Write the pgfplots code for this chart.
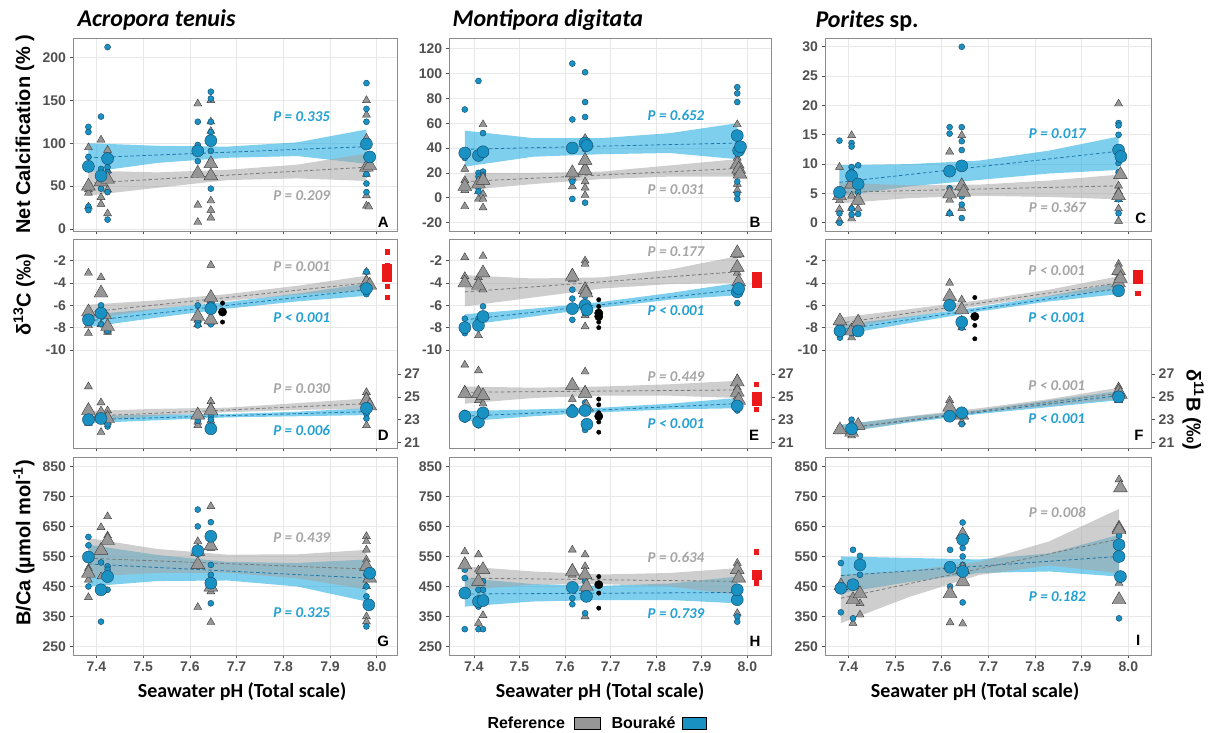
\documentclass[border=0pt]{standalone}
\usepackage{pgfplots}
\pgfplotsset{compat=1.18}
\usepackage{fontspec}
\setmainfont{Liberation Sans}
\newfontfamily\carl{Carlito}
\definecolor{refF}{RGB}{150,150,150}
\definecolor{refE}{RGB}{60,60,60}
\definecolor{bouF}{RGB}{25,145,195}
\definecolor{bouE}{RGB}{20,70,100}
\definecolor{bandG}{RGB}{165,165,165}
\definecolor{bandB}{RGB}{40,175,225}
\definecolor{fitG}{RGB}{120,120,120}
\definecolor{fitB}{RGB}{30,120,170}
\definecolor{pB}{RGB}{35,160,210}
\definecolor{pG}{RGB}{165,165,165}
\definecolor{tickc}{RGB}{80,80,80}
\definecolor{framec}{RGB}{140,140,140}
\definecolor{gridc}{RGB}{232,232,232}
\definecolor{redM}{RGB}{235,25,25}
\pgfplotsset{
 base/.style={scale only axis, anchor=south west,
   axis line style={draw=framec, line width=0.7pt},
   tick style={draw=tickc, line width=0.6pt}, tick align=outside, major tick length=3.5pt,
   tick pos=left,
   xtick={7.4,7.5,7.6,7.7,7.8,7.9,8.0},
   grid=major, grid style={draw=gridc, line width=0.6pt},
   tick label style={font=\fontsize{14}{14}\selectfont\bfseries, text=tickc},
   /pgf/number format/assume math mode=true},
 c1/.style={xmin=7.35, xmax=8.044, width=324.3pt},
 c2/.style={xmin=7.346, xmax=8.052, width=321.7pt},
 c3/.style={xmin=7.35, xmax=8.05, width=326.7pt},
 r1/.style={height=193pt, xticklabels={}},
 r2/.style={height=209pt, xticklabels={}, ymin=-18.78, ymax=-0.06, ytick={-10,-8,-6,-4,-2}, yticklabels={-10,-8,-6,-4,-2}},
 r2r/.style={height=209pt, ymin=20.52, ymax=38.82, axis x line=none, axis y line*=right, ytick pos=right, yticklabel pos=right, ytick={21,23,25,27}, yticklabels={21,23,25,27}, grid=none, xtick=\empty},
 r3/.style={height=198pt, xticklabels={7.4,7.5,7.6,7.7,7.8,7.9,8.0}, ymin=222, ymax=881, ytick={250,350,450,550,650,750,850}, yticklabels={250,350,450,550,650,750,850}},
 refs/.style={only marks, mark=triangle*, mark size=4.6pt, mark options={draw=refE, fill=refF, line width=0.4pt, solid}},
 refb/.style={only marks, mark=triangle*, mark size=8pt, mark options={draw=refE, fill=refF, line width=0.4pt, solid}},
 bous/.style={only marks, mark=*, mark size=3pt, mark options={draw=bouE, fill=bouF, line width=0.4pt, solid}},
 boub/.style={only marks, mark=*, mark size=6pt, mark options={draw=bouE, fill=bouF, line width=0.4pt, solid}},
 blks/.style={only marks, mark=*, mark size=2.2pt, mark options={draw=black, fill=black}},
 blkb/.style={only marks, mark=*, mark size=4.2pt, mark options={draw=black, fill=black}},
 reds/.style={only marks, mark=square*, mark size=2.2pt, mark options={draw=redM, fill=redM}},
 redb/.style={only marks, mark=square*, mark size=4.5pt, mark options={draw=redM, fill=redM}},
 bandg/.style={fill=bandG, fill opacity=0.55, draw=none},
 bandb/.style={fill=bandB, fill opacity=0.6, draw=none},
 fitg/.style={draw=fitG, line width=0.8pt, dash pattern=on 3.5pt off 2.5pt},
 fitb/.style={draw=fitB, line width=0.8pt, dash pattern=on 3.5pt off 2.5pt},
}
\begin{document}
\begin{tikzpicture}
\useasboundingbox (0,0) rectangle (1208pt,733pt);

% ---------------- Panel A
\begin{axis}[base, c1, r1, at={(73pt,502pt)}, ymin=-2.3, ymax=222.6, ytick={0,50,100,150,200}, yticklabels={0,50,100,150,200}]
\addplot[bandb] coordinates {(7.383,100) (7.53,97) (7.68,96) (7.83,101) (7.978,116) (7.978,76) (7.83,85) (7.68,83) (7.53,77) (7.383,66)} -- cycle;
\addplot[bandg] coordinates {(7.383,68) (7.53,66) (7.68,69) (7.83,75) (7.978,88) (7.978,56) (7.83,59) (7.68,57) (7.53,48) (7.383,39)} -- cycle;
\addplot[refs] coordinates {(7.383,95) (7.383,46) (7.383,42) (7.383,26) (7.41,104) (7.41,59) (7.41,37) (7.41,29) (7.424,92) (7.424,68) (7.424,46) (7.424,18) (7.617,146) (7.617,28) (7.617,8) (7.645,150) (7.645,125) (7.645,114) (7.645,65) (7.645,33) (7.645,22) (7.645,13) (7.978,150) (7.978,133) (7.978,106) (7.978,70) (7.978,64) (7.978,39) (7.978,27) (7.983,26)};
\addplot[bous] coordinates {(7.383,119) (7.383,113) (7.383,84) (7.383,26) (7.383,22) (7.41,131) (7.41,70) (7.41,64) (7.41,55) (7.41,47) (7.424,212) (7.424,72) (7.424,66) (7.424,43) (7.424,11) (7.617,125) (7.617,98) (7.617,79) (7.617,64) (7.645,160) (7.645,152) (7.645,125) (7.645,113) (7.645,91) (7.645,79) (7.645,47) (7.978,170) (7.978,140) (7.978,125) (7.978,101) (7.978,84) (7.978,64) (7.978,53) (7.978,43)};
\addplot[refb] coordinates {(7.383,50) (7.41,55) (7.424,58) (7.617,65) (7.645,76) (7.645,62) (7.978,72) (7.985,74)};
\addplot[boub] coordinates {(7.383,73) (7.41,62) (7.424,82) (7.617,91) (7.645,103) (7.978,99) (7.985,84)};
\addplot[fitb] coordinates {(7.383,83) (7.978,96)};
\addplot[fitg] coordinates {(7.383,53.5) (7.978,72)};
\end{axis}

% ---------------- Panel B
\begin{axis}[base, c2, r1, at={(449.3pt,502pt)}, ymin=-26.8, ymax=128.6, ytick={-20,0,20,40,60,80,100,120}, yticklabels={-20,0,20,40,60,80,100,120}]
\addplot[bandb] coordinates {(7.38,54) (7.53,48) (7.68,48) (7.83,52) (7.978,60) (7.978,31) (7.83,36) (7.68,35) (7.53,33) (7.38,25)} -- cycle;
\addplot[bandg] coordinates {(7.38,20) (7.53,20) (7.68,21) (7.83,26) (7.978,31) (7.978,17) (7.83,17) (7.68,15) (7.53,11) (7.38,6)} -- cycle;
\addplot[refs] coordinates {(7.38,23) (7.38,14) (7.38,10) (7.38,6) (7.38,-7) (7.41,13) (7.41,5) (7.41,-1) (7.42,59) (7.42,15) (7.42,3) (7.42,-1) (7.42,-8) (7.616,40) (7.616,20) (7.616,16) (7.616,9) (7.644,48) (7.644,32) (7.644,25) (7.644,13) (7.644,8) (7.644,2) (7.978,59) (7.978,32) (7.978,24) (7.978,20) (7.978,11) (7.978,6)};
\addplot[bous] coordinates {(7.38,71) (7.38,32) (7.41,94) (7.41,20) (7.41,17) (7.41,13) (7.41,8) (7.41,5) (7.42,52) (7.42,21) (7.42,18) (7.616,108) (7.616,63) (7.616,13) (7.616,-1) (7.644,101) (7.644,77) (7.644,65) (7.644,45) (7.644,39) (7.644,-4) (7.978,89) (7.978,84) (7.978,77) (7.978,27) (7.978,13) (7.978,3) (7.978,-1)};
\addplot[refb] coordinates {(7.38,9) (7.41,11) (7.42,14) (7.616,20) (7.644,22) (7.644,30) (7.978,27) (7.981,23) (7.984,19)};
\addplot[boub] coordinates {(7.38,36) (7.41,34) (7.42,37) (7.616,40) (7.644,44) (7.648,42) (7.978,50) (7.981,38) (7.985,41)};
\addplot[fitb] coordinates {(7.38,39) (7.978,44)};
\addplot[fitg] coordinates {(7.38,13) (7.978,23.5)};
\end{axis}

% ---------------- Panel C
\begin{axis}[base, c3, r1, at={(825pt,502pt)}, ymin=-1.4, ymax=31.5, ytick={0,5,10,15,20,25,30}, yticklabels={0,5,10,15,20,25,30}]
\addplot[bandb] coordinates {(7.381,9.8) (7.53,10.0) (7.68,10.6) (7.83,12.3) (7.979,14.7) (7.979,9.0) (7.83,8.4) (7.68,7.3) (7.53,6.2) (7.381,4.5)} -- cycle;
\addplot[bandg] coordinates {(7.381,6.8) (7.53,6.4) (7.68,6.5) (7.83,7.2) (7.979,8.2) (7.979,4.0) (7.83,4.4) (7.68,4.6) (7.53,4.2) (7.381,3.3)} -- cycle;
\addplot[refs] coordinates {(7.381,9.5) (7.381,3.8) (7.381,2.3) (7.381,0.4) (7.407,14.9) (7.407,4.6) (7.407,2.5) (7.407,0.7) (7.421,4.3) (7.421,3.5) (7.421,2.4) (7.617,12.1) (7.617,3.9) (7.617,1.6) (7.643,14.9) (7.643,6.8) (7.643,5.9) (7.643,2.5) (7.979,20.3) (7.979,6.3) (7.979,5.3) (7.979,4.0) (7.979,2.4) (7.979,0.3)};
\addplot[bous] coordinates {(7.381,14) (7.381,5.6) (7.381,1.6) (7.381,0) (7.407,13.6) (7.407,13) (7.407,9.5) (7.407,8.7) (7.407,2.4) (7.407,1.4) (7.421,9.8) (7.421,5.2) (7.421,3.8) (7.421,1.5) (7.617,16.3) (7.617,15.2) (7.617,5.9) (7.617,1.6) (7.643,30) (7.643,16.3) (7.643,13.9) (7.643,12.4) (7.643,4.5) (7.643,3.1) (7.643,0.8) (7.979,17) (7.979,16.6) (7.979,15) (7.979,10.2) (7.979,8.6) (7.979,4) (7.979,1.6)};
\addplot[refb] coordinates {(7.381,4.6) (7.407,6.6) (7.421,3.8) (7.617,4.9) (7.643,6.3) (7.647,5.2) (7.983,8.2) (7.979,4.6)};
\addplot[boub] coordinates {(7.381,5.2) (7.407,8.0) (7.421,6.6) (7.617,8.8) (7.643,9.7) (7.979,12.4) (7.984,11.3)};
\addplot[fitb] coordinates {(7.381,6.9) (7.979,12.2)};
\addplot[fitg] coordinates {(7.381,5.2) (7.979,6.3)};
\end{axis}

% ---------------- Panel D
\begin{axis}[base, c1, r2, at={(73pt,285pt)}]
\addplot[bandb] coordinates {(7.383,-6.85) (7.53,-6.3) (7.68,-5.7) (7.83,-4.95) (7.978,-4.05) (7.978,-5.15) (7.83,-5.65) (7.68,-6.3) (7.53,-7.1) (7.383,-7.95)} -- cycle;
\addplot[bandg] coordinates {(7.383,-5.95) (7.53,-5.55) (7.68,-5.0) (7.83,-4.25) (7.978,-3.35) (7.978,-4.65) (7.83,-5.05) (7.68,-5.6) (7.53,-6.35) (7.383,-7.25)} -- cycle;
\addplot[refs] coordinates {(7.383,-3.1) (7.383,-7.8) (7.383,-8.5) (7.41,-3.5) (7.41,-7.7) (7.424,-7.0) (7.424,-8.2) (7.424,-8.4) (7.617,-6.8) (7.617,-7.3) (7.617,-7.7) (7.645,-2.4) (7.645,-5.6) (7.645,-7.5) (7.978,-3.0) (7.978,-3.7) (7.978,-4.3)};
\addplot[bous] coordinates {(7.383,-7.1) (7.41,-6.0) (7.41,-7.7) (7.424,-8.0) (7.424,-8.3) (7.617,-6.0) (7.617,-7.5) (7.617,-7.8) (7.645,-5.9) (7.645,-7.4) (7.645,-7.7) (7.978,-3.0) (7.978,-4.6) (7.978,-4.9) (7.978,-5.0)};
\addplot[refb] coordinates {(7.383,-6.6) (7.41,-4.9) (7.424,-7.9) (7.617,-7.0) (7.645,-5.3) (7.645,-7.3) (7.978,-4.0) (7.985,-4.2)};
\addplot[boub] coordinates {(7.383,-7.3) (7.41,-6.7) (7.645,-6.3) (7.978,-4.5)};
\addplot[blks] coordinates {(7.67,-5.8) (7.67,-7.5)};
\addplot[blkb] coordinates {(7.67,-6.6)};
\addplot[reds] coordinates {(8.022,-1.2) (8.022,-2.4) (8.022,-4.3) (8.022,-5.3)};
\addplot[redb] coordinates {(8.022,-2.7) (8.022,-3.0) (8.022,-3.4)};
\addplot[fitb] coordinates {(7.383,-7.4) (7.978,-4.6)};
\addplot[fitg] coordinates {(7.383,-6.6) (7.978,-4.0)};
\end{axis}
\begin{axis}[base, c1, r2r, at={(73pt,285pt)}]
\addplot[bandb] coordinates {(7.383,23.3) (7.53,23.45) (7.68,23.5) (7.83,23.7) (7.978,24.0) (7.978,23.4) (7.83,23.3) (7.68,23.2) (7.53,22.95) (7.383,22.7)} -- cycle;
\addplot[bandg] coordinates {(7.383,23.75) (7.53,23.95) (7.68,24.05) (7.83,24.45) (7.978,24.85) (7.978,23.95) (7.83,23.85) (7.68,23.65) (7.53,23.35) (7.383,22.85)} -- cycle;
\addplot[refs] coordinates {(7.383,25.9) (7.383,24.0) (7.383,22.7) (7.41,24.5) (7.41,21.9) (7.424,23.8) (7.424,22.8) (7.617,22.8) (7.617,22.5) (7.645,24.6) (7.645,24.1) (7.645,22.9) (7.978,25.4) (7.978,25.0) (7.978,22.5)};
\addplot[bous] coordinates {(7.383,23.3) (7.41,23.5) (7.424,22.4) (7.424,22.6) (7.617,23.5) (7.617,22.9) (7.645,23.3) (7.645,23.0) (7.978,24.1) (7.978,23.5) (7.978,23.1)};
\addplot[refb] coordinates {(7.383,23.8) (7.41,23.5) (7.424,23.1) (7.617,23.4) (7.645,23.8) (7.978,24.7) (7.985,24.2)};
\addplot[boub] coordinates {(7.383,23.0) (7.41,23.1) (7.645,22.2) (7.978,24.0)};
\addplot[fitb] coordinates {(7.383,23.0) (7.978,23.7)};
\addplot[fitg] coordinates {(7.383,23.3) (7.978,24.4)};
\end{axis}

% ---------------- Panel E
\begin{axis}[base, c2, r2, at={(449.3pt,285pt)}]
\addplot[bandb] coordinates {(7.38,-6.8) (7.53,-6.3) (7.68,-5.7) (7.83,-4.9) (7.978,-4.0) (7.978,-5.1) (7.83,-5.5) (7.68,-6.2) (7.53,-7.0) (7.38,-7.8)} -- cycle;
\addplot[bandg] coordinates {(7.38,-3.3) (7.53,-3.6) (7.68,-3.5) (7.83,-2.8) (7.978,-1.6) (7.978,-4.0) (7.83,-4.1) (7.68,-4.5) (7.53,-5.3) (7.38,-6.1)} -- cycle;
\addplot[refs] coordinates {(7.38,-1.7) (7.38,-3.4) (7.38,-3.9) (7.41,-3.5) (7.41,-8.7) (7.42,-1.6) (7.42,-4.6) (7.616,-3.1) (7.616,-3.7) (7.644,-2.0) (7.644,-2.3) (7.644,-4.5) (7.644,-6.9) (7.644,-7.9) (7.978,-1.5) (7.978,-2.7) (7.978,-3.1) (7.978,-3.9)};
\addplot[bous] coordinates {(7.38,-7.2) (7.38,-8.5) (7.41,-7.2) (7.42,-6.1) (7.616,-4.6) (7.616,-5.4) (7.616,-7.3) (7.644,-5.2) (7.644,-6.7) (7.978,-4.0) (7.978,-4.6) (7.978,-4.9) (7.978,-5.8)};
\addplot[refb] coordinates {(7.38,-4.0) (7.41,-4.2) (7.42,-3.1) (7.616,-3.4) (7.644,-4.6) (7.646,-4.9) (7.978,-1.3) (7.978,-2.6) (7.981,-3.9)};
\addplot[boub] coordinates {(7.38,-8.0) (7.41,-7.8) (7.42,-7.0) (7.616,-6.3) (7.644,-6.0) (7.648,-6.4) (7.978,-4.8) (7.981,-4.5)};
\addplot[blks] coordinates {(7.674,-5.5) (7.674,-6.1) (7.674,-6.5) (7.674,-7.5) (7.674,-8.0)};
\addplot[blkb] coordinates {(7.674,-6.7) (7.674,-7.0)};
\addplot[redb] coordinates {(8.02,-3.4) (8.02,-3.7) (8.02,-4.0)};
\addplot[fitb] coordinates {(7.38,-7.3) (7.978,-4.6)};
\addplot[fitg] coordinates {(7.38,-4.8) (7.978,-3.0)};
\end{axis}
\begin{axis}[base, c2, r2r, at={(449.3pt,285pt)}]
\addplot[bandb] coordinates {(7.38,23.75) (7.53,23.9) (7.68,24.05) (7.83,24.4) (7.978,24.9) (7.978,24.0) (7.83,23.9) (7.68,23.65) (7.53,23.3) (7.38,22.85)} -- cycle;
\addplot[bandg] coordinates {(7.38,25.9) (7.53,25.8) (7.68,25.9) (7.83,26.1) (7.978,26.4) (7.978,24.9) (7.83,25.1) (7.68,25.1) (7.53,24.9) (7.38,24.4)} -- cycle;
\addplot[refs] coordinates {(7.38,27.8) (7.38,25.6) (7.41,27.3) (7.41,24.7) (7.42,24.4) (7.42,25.0) (7.616,24.8) (7.644,27.2) (7.644,25.6) (7.644,23.8) (7.978,26.6) (7.978,25.8) (7.978,25.0)};
\addplot[bous] coordinates {(7.38,23.6) (7.38,23.0) (7.41,22.5) (7.42,23.3) (7.616,24.1) (7.616,23.5) (7.644,24.5) (7.644,22.1) (7.978,24.2) (7.978,23.8)};
\addplot[refb] coordinates {(7.38,25.3) (7.41,25.3) (7.42,25.1) (7.616,26.0) (7.644,25.3) (7.647,24.1) (7.978,26.3) (7.978,25.4) (7.981,24.7)};
\addplot[boub] coordinates {(7.38,23.3) (7.41,22.8) (7.42,23.6) (7.616,23.7) (7.644,23.8) (7.648,22.6) (7.978,24.2)};
\addplot[blks] coordinates {(7.674,24.8) (7.674,24.3) (7.674,23.6) (7.674,22.8) (7.674,21.9)};
\addplot[blkb] coordinates {(7.674,23.3)};
\addplot[reds] coordinates {(8.02,26.1) (8.02,23.9)};
\addplot[redb] coordinates {(8.02,25.0) (8.02,24.7)};
\addplot[fitb] coordinates {(7.38,23.3) (7.978,24.4)};
\addplot[fitg] coordinates {(7.38,25.4) (7.978,25.6)};
\end{axis}

% ---------------- Panel F
\begin{axis}[base, c3, r2, at={(825pt,285pt)}]
\addplot[bandb] coordinates {(7.382,-7.75) (7.53,-7.0) (7.68,-6.15) (7.83,-5.15) (7.979,-4.0) (7.979,-5.0) (7.83,-5.65) (7.68,-6.55) (7.53,-7.6) (7.382,-8.65)} -- cycle;
\addplot[bandg] coordinates {(7.382,-7.1) (7.53,-6.35) (7.68,-5.55) (7.83,-4.6) (7.979,-3.4) (7.979,-4.6) (7.83,-5.2) (7.68,-6.05) (7.53,-7.05) (7.382,-8.1)} -- cycle;
\addplot[refs] coordinates {(7.382,-7.2) (7.382,-7.6) (7.407,-8.0) (7.407,-8.9) (7.421,-7.3) (7.617,-4.0) (7.643,-5.5) (7.643,-6.3) (7.643,-7.3) (7.643,-8.0) (7.979,-2.3) (7.979,-3.1) (7.979,-3.5)};
\addplot[bous] coordinates {(7.382,-8.9) (7.407,-8.5) (7.643,-7.5) (7.643,-8.0) (7.979,-4.1) (7.979,-4.5) (7.979,-4.9)};
\addplot[refb] coordinates {(7.382,-7.4) (7.407,-8.3) (7.421,-7.5) (7.617,-5.2) (7.643,-6.4) (7.979,-2.9) (7.979,-4.0) (7.983,-3.6)};
\addplot[boub] coordinates {(7.382,-8.3) (7.421,-8.3) (7.617,-6.0) (7.643,-7.5) (7.979,-4.7)};
\addplot[blks] coordinates {(7.671,-5.3) (7.671,-7.8) (7.671,-9.0)};
\addplot[blkb] coordinates {(7.671,-7.0)};
\addplot[reds] coordinates {(8.02,-3.1) (8.02,-4.9)};
\addplot[redb] coordinates {(8.02,-3.6) (8.02,-3.3)};
\addplot[fitb] coordinates {(7.382,-8.2) (7.979,-4.5)};
\addplot[fitg] coordinates {(7.382,-7.6) (7.979,-4.0)};
\end{axis}
\begin{axis}[base, c3, r2r, at={(825pt,285pt)}]
\addplot[bandb] coordinates {(7.382,22.55) (7.53,23.25) (7.68,23.85) (7.83,24.7) (7.979,25.5) (7.979,24.7) (7.83,24.1) (7.68,23.5) (7.53,22.75) (7.382,21.85)} -- cycle;
\addplot[bandg] coordinates {(7.382,22.5) (7.53,23.3) (7.68,24.0) (7.83,24.8) (7.979,25.8) (7.979,24.8) (7.83,24.2) (7.68,23.6) (7.53,22.8) (7.382,21.9)} -- cycle;
\addplot[refs] coordinates {(7.382,22.2) (7.407,21.8) (7.407,21.6) (7.421,22.6) (7.617,24.7) (7.617,23.8) (7.643,23.4) (7.643,22.8) (7.979,25.9) (7.979,25.6) (7.979,25.0) (7.979,24.7)};
\addplot[bous] coordinates {(7.382,22.3) (7.407,23.0) (7.407,22.6) (7.421,22.4) (7.643,23.8) (7.643,22.6) (7.979,25.1)};
\addplot[refb] coordinates {(7.382,22.1) (7.407,21.9) (7.421,22.5) (7.617,24.1) (7.643,23.4) (7.979,25.4) (7.983,25.2)};
\addplot[boub] coordinates {(7.407,22.2) (7.617,23.3) (7.643,23.6) (7.979,25.0)};
\addplot[fitb] coordinates {(7.382,22.2) (7.979,25.1)};
\addplot[fitg] coordinates {(7.382,22.2) (7.979,25.3)};
\end{axis}

% ---------------- Panel G
\begin{axis}[base, c1, r3, at={(73pt,78pt)}]
\addplot[bandb] coordinates {(7.383,589) (7.53,555) (7.68,532) (7.83,528) (7.978,540) (7.978,400) (7.83,450) (7.68,470) (7.53,468) (7.383,450)} -- cycle;
\addplot[bandg] coordinates {(7.383,611) (7.53,575) (7.68,556) (7.83,557) (7.978,572) (7.978,440) (7.83,477) (7.68,496) (7.53,495) (7.383,483)} -- cycle;
\addplot[refs] coordinates {(7.383,511) (7.383,500) (7.383,472) (7.383,414) (7.41,647) (7.41,572) (7.41,483) (7.424,683) (7.424,619) (7.424,483) (7.617,600) (7.617,381) (7.645,717) (7.645,594) (7.645,578) (7.645,433) (7.645,331) (7.978,617) (7.978,600) (7.978,572) (7.978,539) (7.978,450) (7.978,350) (7.978,333)};
\addplot[bous] coordinates {(7.383,615) (7.383,587) (7.383,450) (7.41,530) (7.41,444) (7.41,333) (7.424,517) (7.424,506) (7.424,439) (7.617,706) (7.617,650) (7.617,578) (7.645,664) (7.645,522) (7.645,489) (7.645,394) (7.978,489) (7.978,450) (7.978,417) (7.978,389) (7.978,317)};
\addplot[refb] coordinates {(7.383,494) (7.41,570) (7.424,603) (7.617,523) (7.617,567) (7.645,585) (7.645,448) (7.978,517) (7.985,478)};
\addplot[boub] coordinates {(7.383,548) (7.41,439) (7.424,483) (7.617,569) (7.645,617) (7.645,461) (7.985,494) (7.983,389)};
\addplot[fitb] coordinates {(7.383,525) (7.978,478)};
\addplot[fitg] coordinates {(7.383,544) (7.978,508)};
\end{axis}

% ---------------- Panel H
\begin{axis}[base, c2, r3, at={(449.3pt,78pt)}]
\addplot[bandb] coordinates {(7.38,478) (7.53,458) (7.68,452) (7.83,460) (7.978,483) (7.978,394) (7.83,405) (7.68,405) (7.53,400) (7.38,383)} -- cycle;
\addplot[bandg] coordinates {(7.38,517) (7.53,500) (7.68,490) (7.83,495) (7.978,511) (7.978,422) (7.83,450) (7.68,458) (7.53,456) (7.38,439)} -- cycle;
\addplot[refs] coordinates {(7.38,566) (7.38,533) (7.38,517) (7.41,556) (7.41,506) (7.41,461) (7.41,328) (7.42,506) (7.42,354) (7.616,572) (7.616,511) (7.616,489) (7.644,556) (7.644,517) (7.644,439) (7.644,350) (7.978,528) (7.978,506) (7.978,478) (7.978,361)};
\addplot[bous] coordinates {(7.38,506) (7.38,478) (7.38,308) (7.41,439) (7.41,383) (7.41,308) (7.42,467) (7.42,439) (7.42,308) (7.616,411) (7.616,391) (7.644,478) (7.644,467) (7.644,361) (7.978,439) (7.978,417) (7.978,350) (7.978,333)};
\addplot[refb] coordinates {(7.38,522) (7.41,467) (7.42,506) (7.616,500) (7.644,489) (7.647,450) (7.978,506) (7.981,478)};
\addplot[boub] coordinates {(7.38,428) (7.41,400) (7.42,403) (7.616,447) (7.647,417) (7.978,406) (7.978,439)};
\addplot[blks] coordinates {(7.674,483) (7.674,428) (7.674,378)};
\addplot[blkb] coordinates {(7.674,456)};
\addplot[reds] coordinates {(8.02,566) (8.02,463)};
\addplot[redb] coordinates {(8.02,489)};
\addplot[fitb] coordinates {(7.38,425) (7.978,430)};
\addplot[fitg] coordinates {(7.38,478) (7.978,467)};
\end{axis}

% ---------------- Panel I
\begin{axis}[base, c3, r3, at={(825pt,78pt)}]
\addplot[bandb] coordinates {(7.384,550) (7.53,545) (7.68,540) (7.83,560) (7.98,622) (7.98,483) (7.83,500) (7.68,495) (7.53,465) (7.384,428)} -- cycle;
\addplot[bandg] coordinates {(7.384,489) (7.53,503) (7.68,532) (7.83,600) (7.98,708) (7.98,494) (7.83,520) (7.68,488) (7.53,415) (7.384,328)} -- cycle;
\addplot[refs] coordinates {(7.41,328) (7.425,394) (7.425,356) (7.618,330) (7.645,326) (7.98,806) (7.98,461)};
\addplot[bous] coordinates {(7.384,528) (7.384,364) (7.41,572) (7.41,344) (7.425,552) (7.425,489) (7.618,572) (7.618,450) (7.645,663) (7.645,578) (7.645,550) (7.645,522) (7.645,397) (7.98,619) (7.98,344)};
\addplot[refb] coordinates {(7.384,452) (7.41,406) (7.425,426) (7.618,426) (7.645,467) (7.645,622) (7.645,506) (7.983,778) (7.98,644) (7.98,639) (7.98,406)};
\addplot[boub] coordinates {(7.384,444) (7.41,456) (7.425,522) (7.618,514) (7.645,606) (7.645,500) (7.98,589) (7.98,550) (7.983,483)};
\addplot[fitb] coordinates {(7.384,486) (7.98,550)};
\addplot[fitg] coordinates {(7.384,411) (7.98,608)};
\end{axis}

% ---------------- texts
\begin{scope}[x=1pt, y=-1pt, yshift=733pt]
\tikzset{ttl/.style={anchor=west, font=\carl\bfseries\itshape\fontsize{24}{24}\selectfont},
 ylab/.style={font=\bfseries\fontsize{20}{20}\selectfont},
 xlab/.style={font=\carl\bfseries\fontsize{20}{20}\selectfont},
 pv/.style={font=\carl\bfseries\itshape\fontsize{15}{15}\selectfont},
 let/.style={font=\bfseries\fontsize{15}{15}\selectfont}}
\node[ttl] at (74,20) {Acropora tenuis};
\node[ttl] at (449,20) {Montipora digitata};
\node[ttl] at (812,21) {Porites\upshape\ sp.};
\node[ylab, rotate=90] at (25,134) {Net Calcification (\% )};
\node[ylab, rotate=90] at (24,295) {δ\textsuperscript{13}C (‰)};
\node[ylab, rotate=90] at (24,543) {B/Ca (µmol mol\textsuperscript{-1})};
\node[ylab, rotate=-90] at (1193,410) {δ\textsuperscript{11}B (‰)};
\node[xlab] at (242,692) {Seawater pH (Total scale)};
\node[xlab] at (600,692) {Seawater pH (Total scale)};
\node[xlab] at (975,692) {Seawater pH (Total scale)};
% p-values
\node[pv, text=pB] at (301.7,116.7) {P = 0.335};
\node[pv, text=pG] at (301.7,196) {P = 0.209};
\node[pv, text=pB] at (676,115) {P = 0.652};
\node[pv, text=pG] at (676,189.3) {P = 0.031};
\node[pv, text=pB] at (1057.3,133.3) {P = 0.017};
\node[pv, text=pG] at (1057.3,207.3) {P = 0.367};
\node[pv, text=pG] at (301.7,266.7) {P = 0.001};
\node[pv, text=pB] at (301.7,317.3) {P < 0.001};
\node[pv, text=pG] at (301.7,389) {P = 0.030};
\node[pv, text=pB] at (301.7,430) {P = 0.006};
\node[pv, text=pG] at (676,251.7) {P = 0.177};
\node[pv, text=pB] at (676,311) {P < 0.001};
\node[pv, text=pG] at (676,376.7) {P = 0.449};
\node[pv, text=pB] at (676,423.3) {P < 0.001};
\node[pv, text=pG] at (1056.7,270.7) {P < 0.001};
\node[pv, text=pB] at (1056.7,317.3) {P < 0.001};
\node[pv, text=pG] at (1056.7,385.7) {P < 0.001};
\node[pv, text=pB] at (1056.7,419) {P < 0.001};
\node[pv, text=pG] at (301.7,537.3) {P = 0.439};
\node[pv, text=pB] at (301.7,612.3) {P = 0.325};
\node[pv, text=pG] at (676,557.3) {P = 0.634};
\node[pv, text=pB] at (676,614) {P = 0.739};
\node[pv, text=pG] at (1057.3,512.7) {P = 0.008};
\node[pv, text=pB] at (1057.3,596.7) {P = 0.182};
% panel letters
\node[let] at (383.3,222.7) {A};
\node[let] at (755,222.7) {B};
\node[let] at (1140.7,218.3) {C};
\node[let] at (383.3,435) {D};
\node[let] at (754,435) {E};
\node[let] at (1139,435) {F};
\node[let] at (383.3,641.7) {G};
\node[let] at (755,641.7) {H};
\node[let] at (1138.3,640.7) {I};
% legend
\node[anchor=west, font=\bfseries\fontsize{16}{16}\selectfont] at (484,723) {Reference};
\draw[fill=refF, draw=black, line width=0.8pt] (574,717) rectangle (600,729);
\node[anchor=west, font=\bfseries\fontsize{16}{16}\selectfont] at (608,723) {Bouraké};
\draw[fill=bouF, draw=black, line width=0.8pt] (682,717) rectangle (706,729);
\end{scope}
\end{tikzpicture}
\end{document}
